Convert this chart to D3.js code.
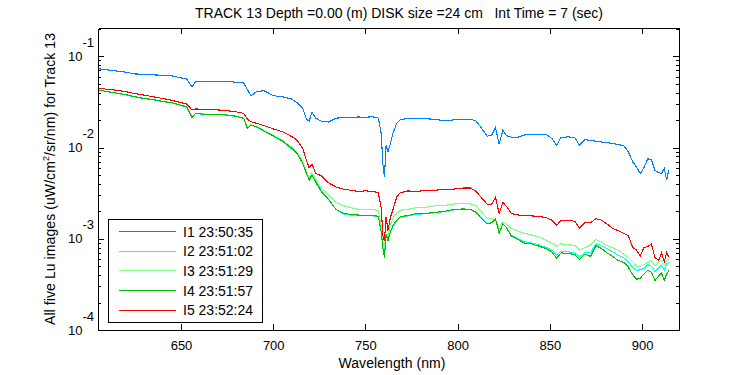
<!DOCTYPE html>
<html>
<head>
<meta charset="utf-8">
<script src="https://cdn.jsdelivr.net/npm/d3@7"></script>
<style>
  body { margin: 0; background: #fff; }
  svg { font-family: "Liberation Sans", Arial, sans-serif; }
</style>
</head>
<body>
<svg id="chart" width="750" height="375"></svg>
<script>
// wavelength grid (nm)
const wavelength = [
  605, 610, 615, 620, 625, 630, 635, 640, 645, 650,
  653, 656, 658, 662, 668, 674, 680, 684, 686, 688,
  691, 695, 700, 705, 710, 713, 716, 718, 719.5, 721,
  723, 726, 730, 734, 738, 742, 746, 750, 754, 757,
  758.5, 759.5, 760.3, 761.2, 762.2, 763.5, 765, 767, 769, 773,
  778, 783, 788, 793, 798, 803, 807, 810, 813, 816,
  818.5, 820.5, 822.5, 824.5, 826.5, 829, 832, 836, 840, 844,
  848, 851, 853.7, 856, 860, 863.6, 866, 869, 872, 875,
  878, 881, 884, 887, 890, 892.5, 895, 897, 899, 901,
  903, 905, 907, 909, 910.5, 912, 913.3, 914.5
];

const luI1 = [
  0.073, 0.071, 0.069, 0.067, 0.064, 0.0635, 0.0625, 0.062, 0.061, 0.058,
  0.0565, 0.046, 0.053, 0.0535, 0.0535, 0.053, 0.052, 0.051, 0.043, 0.037,
  0.041, 0.042, 0.037, 0.036, 0.034, 0.031, 0.027, 0.0205, 0.0195, 0.0245,
  0.021, 0.0195, 0.019, 0.021, 0.0212, 0.0214, 0.0216, 0.0215, 0.0217, 0.021,
  0.0145, 0.0065, 0.0048, 0.0105, 0.009, 0.011, 0.0145, 0.0185, 0.0202, 0.0208,
  0.0209, 0.0207, 0.0203, 0.0197, 0.0201, 0.0204, 0.0205, 0.0195, 0.0162, 0.0133,
  0.0137, 0.0165, 0.0109, 0.0155, 0.0135, 0.013, 0.0128, 0.0137, 0.014, 0.0139,
  0.0139, 0.0126, 0.0106, 0.0129, 0.0131, 0.0128, 0.0106, 0.0122, 0.012, 0.0117,
  0.0115, 0.0113, 0.0111, 0.0108, 0.0105, 0.009, 0.0069, 0.0061, 0.0052, 0.006,
  0.0075, 0.0074, 0.0056, 0.0053, 0.0052, 0.0059, 0.0044, 0.0057
];

const luI2 = [
  0.0425, 0.041, 0.0393, 0.0378, 0.0358, 0.0344, 0.0333, 0.0318, 0.0308, 0.0288,
  0.0279, 0.0216, 0.0236, 0.0231, 0.0229, 0.0227, 0.0219, 0.0208, 0.0164, 0.0175,
  0.0168, 0.0151, 0.0133, 0.0117, 0.0097, 0.0085, 0.0068, 0.0053, 0.0045, 0.005,
  0.0043, 0.0034, 0.0027, 0.0021, 0.00188, 0.00182, 0.0018, 0.00178, 0.00178, 0.00174,
  0.00125, 0.0008, 0.00068, 0.0011, 0.00098, 0.00118, 0.00138, 0.00158, 0.00172, 0.00178,
  0.00186, 0.00188, 0.00193, 0.00198, 0.00207, 0.0021, 0.00208, 0.00194, 0.00168, 0.00147,
  0.0015, 0.00164, 0.00118, 0.00145, 0.00133, 0.0011, 0.00102, 0.00093, 0.0009, 0.00086,
  0.0008, 0.00076, 0.00066, 0.00073, 0.00072, 0.0007, 0.00063, 0.00071, 0.0007, 0.00088,
  0.00084, 0.00078, 0.00072, 0.00066, 0.00062, 0.00056, 0.00048, 0.00045, 0.00046, 0.00047,
  0.00052, 0.0005, 0.00044, 0.00048, 0.00052, 0.00045, 0.00053, 0.00055
];

const luI3 = [
  0.043, 0.0412, 0.0396, 0.0381, 0.0361, 0.0347, 0.0336, 0.0321, 0.0311, 0.0291,
  0.0281, 0.0218, 0.0238, 0.0233, 0.0231, 0.0229, 0.0221, 0.021, 0.0166, 0.0178,
  0.017, 0.0154, 0.0136, 0.012, 0.0101, 0.0089, 0.007, 0.0055, 0.0047, 0.0053,
  0.0045, 0.0036, 0.003, 0.0025, 0.0023, 0.0022, 0.0021, 0.0021, 0.00208, 0.00205,
  0.0014, 0.0009, 0.0008, 0.00113, 0.0011, 0.0014, 0.0017, 0.0019, 0.00205, 0.0021,
  0.0022, 0.00222, 0.0023, 0.00232, 0.0024, 0.00245, 0.0024, 0.0023, 0.00195, 0.00168,
  0.00165, 0.00162, 0.00134, 0.00153, 0.00145, 0.0013, 0.00123, 0.00115, 0.0011, 0.00105,
  0.00096, 0.0009, 0.00083, 0.00088, 0.00086, 0.00084, 0.00075, 0.0008, 0.00085, 0.00098,
  0.00092, 0.00084, 0.0008, 0.00075, 0.00068, 0.00063, 0.00056, 0.0005, 0.0005, 0.00052,
  0.00055, 0.00058, 0.0005, 0.00056, 0.00058, 0.00052, 0.00058, 0.0006
];

const luI4 = [
  0.0428, 0.041, 0.0395, 0.038, 0.036, 0.0345, 0.0335, 0.032, 0.031, 0.029,
  0.028, 0.0214, 0.0237, 0.0232, 0.023, 0.0228, 0.022, 0.0209, 0.0162, 0.0176,
  0.0169, 0.0152, 0.0134, 0.0118, 0.0098, 0.0086, 0.0067, 0.0052, 0.0044, 0.005,
  0.0042, 0.0033, 0.0027, 0.0021, 0.0019, 0.00185, 0.00182, 0.0018, 0.0018, 0.00176,
  0.0012, 0.00078, 0.00062, 0.00113, 0.00095, 0.0012, 0.0014, 0.0016, 0.00175, 0.0018,
  0.0019, 0.0019, 0.00195, 0.002, 0.0021, 0.00212, 0.0021, 0.00195, 0.00166, 0.00145,
  0.0015, 0.00166, 0.00115, 0.00146, 0.00132, 0.00108, 0.001, 0.0009, 0.00088, 0.00083,
  0.00078, 0.00072, 0.00061, 0.0007, 0.00069, 0.00067, 0.00059, 0.00068, 0.00064, 0.00084,
  0.00078, 0.0007, 0.00064, 0.00058, 0.00055, 0.00049, 0.0004, 0.00036, 0.00037, 0.00041,
  0.00045, 0.00043, 0.00035, 0.00039, 0.00042, 0.00035, 0.00041, 0.00045
];

const luI5 = [
  0.0447, 0.0435, 0.0425, 0.041, 0.039, 0.0375, 0.036, 0.0345, 0.033, 0.031,
  0.030, 0.0258, 0.0265, 0.0262, 0.026, 0.0255, 0.0246, 0.0237, 0.0205, 0.0192,
  0.0184, 0.0174, 0.016, 0.0149, 0.0132, 0.012, 0.0098, 0.0072, 0.006, 0.0066,
  0.0052, 0.0049, 0.0041, 0.0037, 0.0035, 0.0034, 0.0033, 0.00335, 0.0033, 0.0032,
  0.0022, 0.00108, 0.00095, 0.00174, 0.00123, 0.0017, 0.0021, 0.0029, 0.0032, 0.00334,
  0.0033, 0.0034, 0.0034, 0.0035, 0.0035, 0.0036, 0.0036, 0.0033, 0.0028, 0.0024,
  0.0024, 0.00286, 0.0019, 0.0025, 0.00226, 0.0019, 0.00183, 0.0018, 0.00178, 0.00176,
  0.0017, 0.0016, 0.0014, 0.0016, 0.0016, 0.00155, 0.0013, 0.0015, 0.0015, 0.00166,
  0.0016, 0.00145, 0.0013, 0.00123, 0.00115, 0.00108, 0.0008, 0.00075, 0.00065, 0.0008,
  0.00082, 0.00088, 0.00062, 0.00058, 0.0007, 0.00056, 0.0007, 0.00063
];

const seriesNames = ["I1 23:50:35", "I2 23:51:02", "I3 23:51:29", "I4 23:51:57", "I5 23:52:24"];
const seriesValues = [luI1, luI2, luI3, luI4, luI5];
const xTickValues = [650, 700, 750, 800, 850, 900];
const yExponents = [-4, -3, -2, -1];

const colors = ["#0080ff", "#00ffff", "#80ff80", "#00c000", "#ff0000"];

const margin = { top: 28, right: 71, bottom: 45, left: 98 };
const width = 750, height = 375;
const chartWidth = width - margin.left - margin.right;
const chartHeight = height - margin.top - margin.bottom;

const svg = d3.select("#chart");
const g = svg.append("g").attr("transform", `translate(${margin.left},${margin.top})`);

const x = d3.scaleLinear().domain([605, 920]).range([0, chartWidth]);
const y = d3.scaleLog().domain([1e-4, Math.pow(10, -0.69)]).range([chartHeight, 0]);

// minor ticks for log axis
const minorTicks = [];
for (const e of [-4, -3, -2, -1]) {
  for (let k = 2; k <= 9; k++) {
    const v = k * Math.pow(10, e);
    if (v <= y.domain()[1]) minorTicks.push(v);
  }
}
const majorTicks = yExponents.map(e => Math.pow(10, e));

g.append("defs").append("clipPath").attr("id", "clip")
  .append("rect").attr("width", chartWidth).attr("height", chartHeight);

// Lines
const line = d3.line()
  .x((d, i) => x(wavelength[i]))
  .y(d => y(d));

const plot = g.append("g").attr("clip-path", "url(#clip)");
seriesValues.forEach((vals, i) => {
  plot.append("path")
    .datum(vals)
    .attr("fill", "none")
    .attr("stroke", colors[i])
    .attr("stroke-width", 1.1)
    .attr("shape-rendering", "crispEdges")
    .attr("d", line);
});

function styleAxis(sel) {
  sel.selectAll("path, line").attr("stroke", "#000").attr("shape-rendering", "crispEdges");
  sel.selectAll("text").attr("fill", "#000").attr("font-size", 13).attr("font-family", "Liberation Sans, Arial, sans-serif");
}

// Bottom axis
g.append("g")
  .attr("transform", `translate(0,${chartHeight})`)
  .call(d3.axisBottom(x).tickValues(xTickValues).tickSizeInner(-6).tickSizeOuter(0).tickPadding(11))
  .call(styleAxis);

// Top axis
g.append("g")
  .call(d3.axisTop(x).tickValues(xTickValues).tickSizeInner(-6).tickSizeOuter(0).tickFormat(""))
  .call(styleAxis);

// Left axis (major)
const leftAxis = g.append("g")
  .call(d3.axisLeft(y).tickValues(majorTicks).tickSizeInner(-6).tickSizeOuter(0).tickPadding(4).tickFormat(""))
  .call(styleAxis);

leftAxis.selectAll(".tick text").each(function(d) {
  const t = d3.select(this);
  t.text(null);
  t.append("tspan").text("10");
  t.append("tspan").attr("dy", "-14").text(Math.round(Math.log10(d)));
});

// Left minor ticks
g.append("g")
  .call(d3.axisLeft(y).tickValues(minorTicks).tickSizeInner(-3).tickSizeOuter(0).tickFormat(""))
  .call(styleAxis)
  .select(".domain").remove();

// Right axis
g.append("g")
  .attr("transform", `translate(${chartWidth},0)`)
  .call(d3.axisRight(y).tickValues(majorTicks).tickSizeInner(-6).tickSizeOuter(0).tickFormat(""))
  .call(styleAxis);
g.append("g")
  .attr("transform", `translate(${chartWidth},0)`)
  .call(d3.axisRight(y).tickValues(minorTicks).tickSizeInner(-3).tickSizeOuter(0).tickFormat(""))
  .call(styleAxis)
  .select(".domain").remove();

// Title
svg.append("text")
  .attr("x", 399)
  .attr("y", 18)
  .attr("text-anchor", "middle")
  .attr("font-size", 14)
  .attr("textLength", 408)
  .attr("lengthAdjust", "spacing")
  .style("white-space", "pre")
  .text("TRACK 13 Depth =0.00 (m) DISK size =24 cm   Int Time = 7 (sec)");

// X label
svg.append("text")
  .attr("x", 392)
  .attr("y", 368)
  .attr("text-anchor", "middle")
  .attr("font-size", 14)
  .attr("textLength", 107)
  .attr("lengthAdjust", "spacing")
  .text("Wavelength (nm)");

// Y label
const yLabel = svg.append("text")
  .attr("transform", `translate(55,${margin.top + chartHeight / 2}) rotate(-90)`)
  .attr("text-anchor", "middle")
  .attr("font-size", 14)
  .attr("textLength", 292)
  .attr("lengthAdjust", "spacing");
yLabel.append("tspan").text("All five Lu images (uW/cm");
yLabel.append("tspan").attr("font-size", 9).attr("dy", -6).text("2");
yLabel.append("tspan").attr("dy", 6).text("/sr/nm) for Track 13");

// Legend
const legend = svg.append("g").attr("transform", "translate(108,219)");
legend.append("rect")
  .attr("width", 154).attr("height", 103)
  .attr("fill", "#fff").attr("stroke", "#000").attr("shape-rendering", "crispEdges");
seriesNames.forEach((name, i) => {
  const ly = 12.7 + i * 19.6;
  legend.append("line")
    .attr("x1", 11).attr("x2", 68)
    .attr("y1", ly).attr("y2", ly)
    .attr("stroke", colors[i]).attr("stroke-width", 1)
    .attr("shape-rendering", "crispEdges");
  legend.append("text")
    .attr("x", 75).attr("y", ly + 5)
    .attr("font-size", 14)
    .text(name);
});
</script>
</body>
</html>
